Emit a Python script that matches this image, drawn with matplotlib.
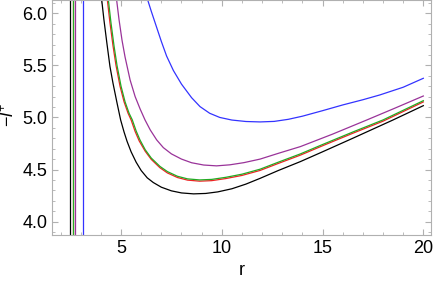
import matplotlib
matplotlib.use("Agg")
import matplotlib.pyplot as plt
from matplotlib.ticker import MultipleLocator

plt.rcParams["font.family"] = ["Liberation Sans", "DejaVu Sans"]
plt.rcParams["mathtext.fontset"] = "custom"
plt.rcParams["mathtext.it"] = "Liberation Sans:italic"
plt.rcParams["mathtext.rm"] = "Liberation Sans"

# curves (r, -l+)
black_r = [4.04, 4.15, 4.3, 4.45, 4.6, 4.8, 4.98, 5.15, 5.3, 5.5, 5.75, 6.0, 6.3, 6.6, 7.0, 7.5, 8.0, 8.6,
           9.2, 9.8, 10.5, 11.2, 11.9, 12.8, 13.9, 15, 16.5, 18.5, 20]
black_l = [6.13, 5.94, 5.71, 5.49, 5.33, 5.14, 4.976, 4.86, 4.77, 4.67, 4.57, 4.49, 4.42, 4.375, 4.33, 4.295,
           4.275, 4.266, 4.27, 4.285, 4.315, 4.36, 4.415, 4.49, 4.576, 4.67, 4.8, 4.976, 5.113]

red_r = [4.32, 4.45, 4.6, 4.75, 4.95, 5.15, 5.35, 5.5, 5.7, 5.9, 6.2, 6.5, 6.93, 7.3, 7.8, 8.3, 8.9, 9.5,
         10.2, 11.0, 11.9, 12.8, 13.9, 15, 16.5, 18, 20]
red_l = [6.13, 5.91, 5.69, 5.5, 5.3, 5.15, 5.04, 4.976, 4.865, 4.775, 4.675, 4.597, 4.517, 4.467, 4.423,
         4.398, 4.388, 4.393, 4.413, 4.443, 4.491, 4.558, 4.638, 4.728, 4.848, 4.964, 5.149]

green_r = [4.37, 4.5, 4.65, 4.8, 5.0, 5.2, 5.4, 5.56, 5.75, 5.94, 6.2, 6.5, 6.93, 7.3, 7.8, 8.3, 8.9, 9.5,
           10.2, 11.0, 11.9, 12.8, 13.9, 15, 16.5, 18, 20]
green_l = [6.13, 5.91, 5.69, 5.5, 5.3, 5.15, 5.04, 4.976, 4.87, 4.784, 4.69, 4.61, 4.53, 4.48, 4.435, 4.41,
           4.40, 4.405, 4.425, 4.455, 4.503, 4.57, 4.65, 4.74, 4.86, 4.976, 5.161]

purple_r = [4.78, 4.9, 5.05, 5.2, 5.45, 5.7, 5.95, 6.19, 6.45, 6.77, 7.1, 7.5, 8.0, 8.5, 9.1, 9.74, 10.4,
            11.1, 11.9, 12.8, 13.9, 15.5, 17.2, 18.6, 20]
purple_l = [6.13, 5.94, 5.74, 5.58, 5.36, 5.2, 5.08, 4.976, 4.88, 4.784, 4.71, 4.65, 4.6, 4.565, 4.543,
            4.535, 4.545, 4.566, 4.6, 4.655, 4.72, 4.84, 4.976, 5.09, 5.206]

blue_r = [6.32, 6.5, 6.75, 7.0, 7.26, 7.6, 8.0, 8.5, 8.92, 9.4, 9.9, 10.5, 11.2, 11.9, 12.6, 13.3, 14.0,
          15.0, 16.0, 17.0, 17.84, 19.0, 20]
blue_l = [6.13, 6.02, 5.875, 5.73, 5.59, 5.45, 5.32, 5.19, 5.104, 5.04, 5.0, 4.975, 4.961, 4.957, 4.962,
          4.982, 5.012, 5.065, 5.12, 5.17, 5.216, 5.29, 5.376]

# vertical jumps near the singularities
jump_r = [2.48, 2.6, 2.6, 2.72, 3.11]

colors = ["black", "#ee2222", "#22aa22", "#993399", "#3333ff"]
curves = [(black_r, black_l), (red_r, red_l), (green_r, green_l),
          (purple_r, purple_l), (blue_r, blue_l)]

fig = plt.figure(figsize=(4.36, 2.83), dpi=100)
ax = fig.add_axes([0.12, 0.17, 0.868, 0.83])

for (r, l), c, rj in zip(curves, colors, jump_r):
    ax.axvline(rj, color=c, lw=0.9)
    ax.plot(r, l, color=c, lw=0.9)

ax.set_xlim(1.59, 20.37)
ax.set_ylim(3.872, 6.128)
ax.xaxis.set_major_locator(MultipleLocator(5))
ax.xaxis.set_minor_locator(MultipleLocator(1))
ax.yaxis.set_major_locator(MultipleLocator(0.5))
ax.yaxis.set_minor_locator(MultipleLocator(0.1))
ax.yaxis.set_major_formatter(plt.FormatStrFormatter("%.1f"))

for s in ax.spines.values():
    s.set_color("#b0b0b0")
ax.tick_params(which="both", direction="in", top=True, right=True, color="#b0b0b0", labelsize=13)
ax.tick_params(which="major", length=4)
ax.tick_params(which="minor", length=2)

ax.set_xlabel("r", fontsize=13)
ax.set_ylabel("$-l^{+}$", fontsize=13)
ax.yaxis.set_label_coords(-0.09, 0.51)

fig.savefig("out.png", dpi=100)
